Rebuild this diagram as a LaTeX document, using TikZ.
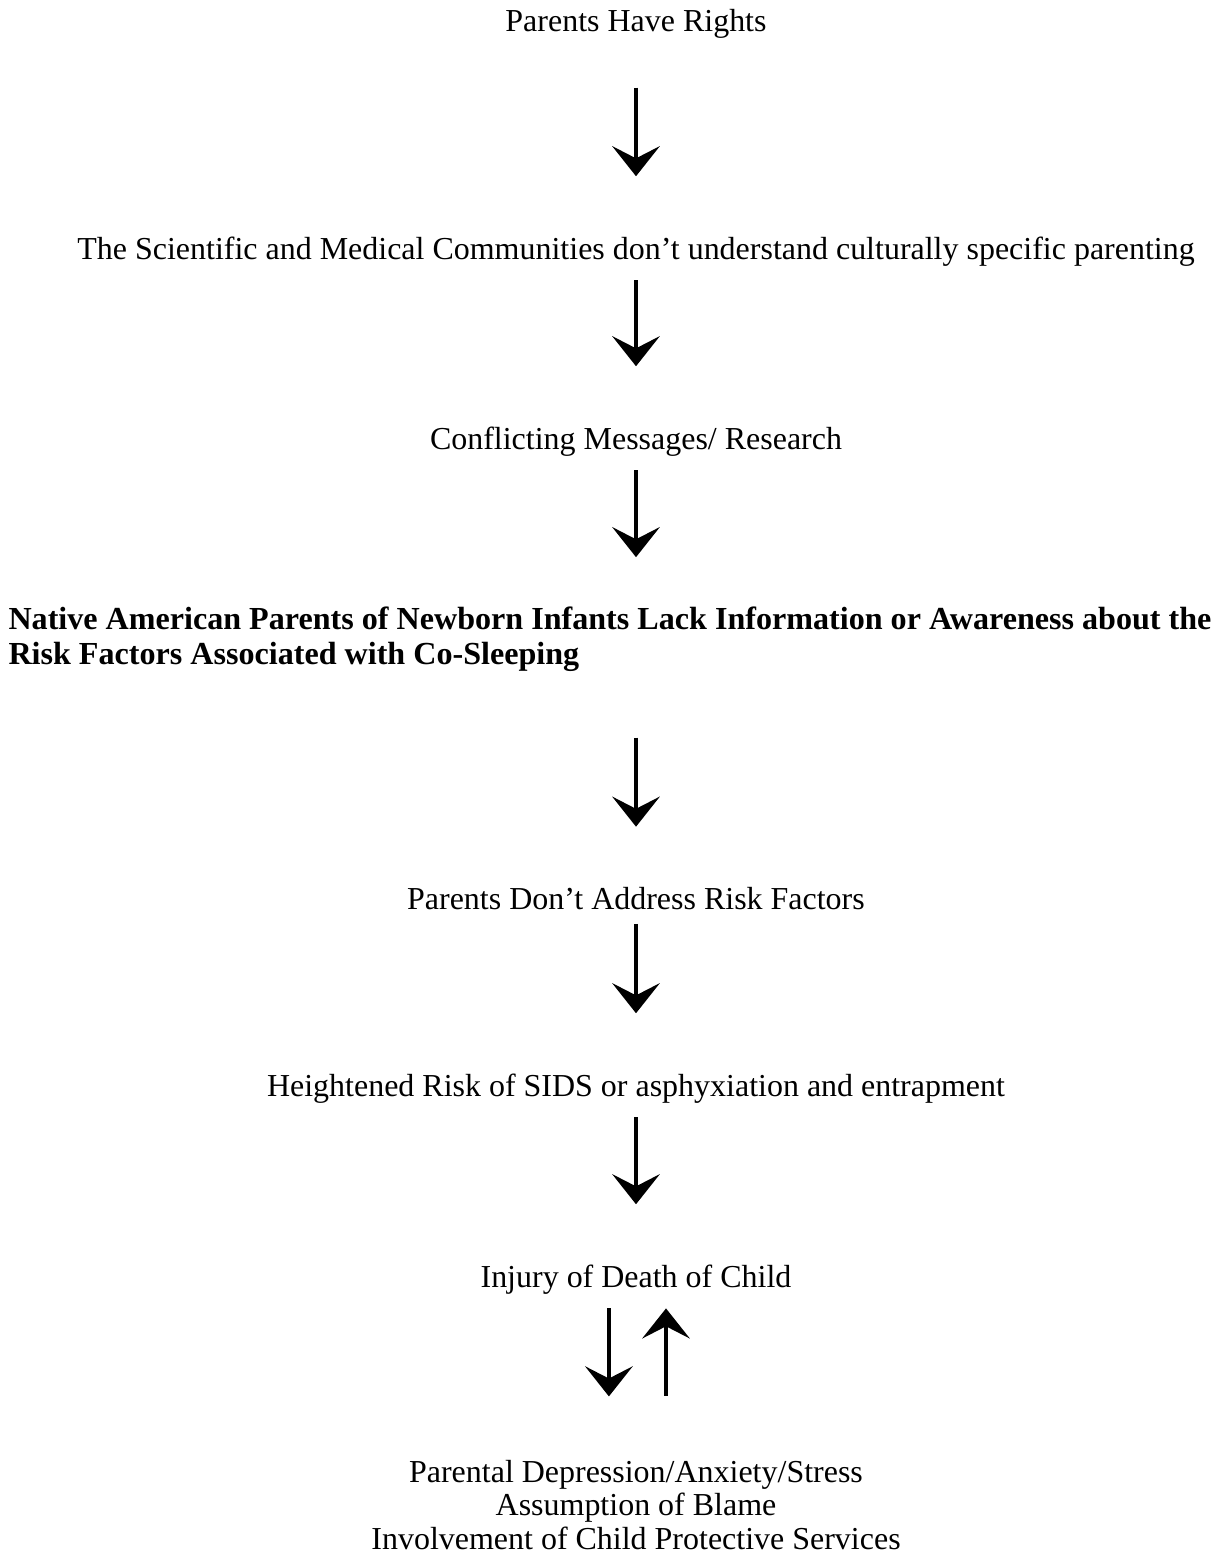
\documentclass[tikz,border=0pt]{standalone}
\usepackage{fontspec}
\setmainfont{Liberation Serif}
\usetikzlibrary{arrows.meta}

\begin{document}
\begin{tikzpicture}[x=0.38pt, y=-0.38pt]
	\useasboundingbox (0,0) rectangle (1223,1560);
	\begin{scope}[every node/.style = {inner sep=0pt,
			font=\fontsize{12.15}{12.8}\selectfont}]
		\node (rights) at (636,24) {Parents Have Rights};
		\node (science) at (636,252) {The Scientific and Medical Communities don’t understand culturally specific parenting};
		\node (conflict) at (636,442) {Conflicting Messages/ Research};
		\node [anchor=west, align=left, font=\fontsize{12.2}{13.3}\selectfont\bfseries] (lack) at (8,639)
			{Native American Parents of Newborn Infants Lack Information or Awareness about the\\
			Risk Factors Associated with Co-Sleeping};
		\node (address) at (636,899) {Parents Don’t Address Risk Factors};
		\node (risk) at (636,1089) {Heightened Risk of SIDS or asphyxiation and entrapment};
		\node (injury) at (636,1280) {Injury of Death of Child};
		\node [align=center] (effects) at (636,1505) {Parental Depression/Anxiety/Stress\\
			Assumption of Blame\\
			Involvement of Child Protective Services};
	\end{scope}
	\begin{scope}[>={Stealth[length=11.4pt, width=18pt, inset=4.6pt]},
			every edge/.style={draw=black, line width=1.7pt, shorten <=5pt, shorten >=23pt}]
		\path [->] (rights) edge[shorten <=18.5pt] (science);
		\path [->] (science) edge (conflict);
		\path [->] (conflict.south) edge[shorten >=18.6pt] (conflict.south |- lack.north);
		\path [->] (address.north |- lack.south) edge[shorten <=25pt] (address.north);
		\path [->] (address) edge (risk);
		\path [->] (risk) edge (injury);
		\path [->] ([xshift=-10.3pt]injury.south) edge[shorten >=24pt] ([xshift=-10.3pt]effects.north);
		\path [<-] ([xshift=11.4pt]injury.south) edge[shorten >=24pt] ([xshift=11.4pt]effects.north);
	\end{scope}
\end{tikzpicture}
\end{document}
